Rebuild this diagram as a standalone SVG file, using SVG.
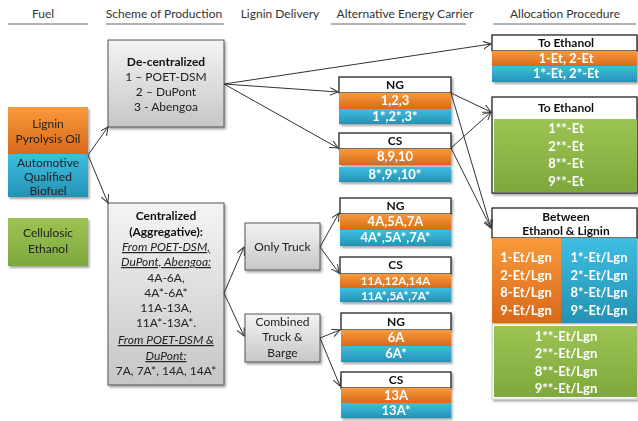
<svg xmlns="http://www.w3.org/2000/svg" width="638" height="421" viewBox="0 0 638 421">
  <defs>
    <linearGradient id="gOrange" x1="0" y1="0" x2="0" y2="1">
      <stop offset="0" stop-color="#F99A3A"/>
      <stop offset="1" stop-color="#D8691C"/>
    </linearGradient>
    <linearGradient id="gBlue" x1="0" y1="0" x2="0" y2="1">
      <stop offset="0" stop-color="#3DBEE2"/>
      <stop offset="1" stop-color="#2692B3"/>
    </linearGradient>
    <linearGradient id="gGreen" x1="0" y1="0" x2="0" y2="1">
      <stop offset="0" stop-color="#9CC454"/>
      <stop offset="1" stop-color="#7FA83C"/>
    </linearGradient>
    <linearGradient id="gGray" x1="0" y1="0" x2="0" y2="1">
      <stop offset="0" stop-color="#F4F4F4"/>
      <stop offset="1" stop-color="#C6C6C6"/>
    </linearGradient>
    <filter id="shadow" x="-10%" y="-10%" width="125%" height="125%">
      <feDropShadow dx="1.5" dy="2" stdDeviation="1.2" flood-color="#000" flood-opacity="0.35"/>
    </filter>
    <marker id="arrow" markerWidth="10" markerHeight="10" refX="8" refY="4" orient="auto" markerUnits="userSpaceOnUse">
      <path d="M0,0 L8,4 L0,8" fill="none" stroke="#333" stroke-width="1"/>
    </marker>
  </defs>
  <style>
    text { font-family: Lato, "Liberation Sans", sans-serif; }
    .hdr { font-size: 12px; fill: #333; text-anchor: middle; }
    .rule { stroke: #9A9A9A; stroke-width: 1.5; }
    .lbl { font-size: 12px; fill: #222; text-anchor: middle; }
    .lblb { font-size: 12px; fill: #111; text-anchor: middle; font-weight: bold; }
    .it { font-style: italic; text-decoration: underline; }
    .wt { font-size: 13px; fill: #fff; text-anchor: middle; font-weight: bold; }
    .wts { font-size: 11.5px; }
    .head { fill: #fff; stroke: #222; stroke-width: 1.3; }
    .gray { fill: url(#gGray); stroke: #555; stroke-width: 1; }
    .org { fill: url(#gOrange); }
    .blu { fill: url(#gBlue); }
    .grn { fill: url(#gGreen); }
    .conn { stroke: #333; stroke-width: 1; fill: none; marker-end: url(#arrow); }
  </style>

  <rect width="638" height="421" fill="#fff"/>

  <!-- column headings -->
  <g id="headings">
    <text class="hdr" x="43" y="18">Fuel</text>
    <line class="rule" x1="8" y1="24" x2="88" y2="24"/>
    <text class="hdr" x="164" y="18">Scheme of Production</text>
    <line class="rule" x1="106" y1="24" x2="224" y2="24"/>
    <text class="hdr" x="280" y="18">Lignin Delivery</text>
    <text class="hdr" x="405" y="18">Alternative Energy Carrier</text>
    <line class="rule" x1="331" y1="24" x2="466" y2="24"/>
    <text class="hdr" x="565" y="18">Allocation Procedure</text>
    <line class="rule" x1="493" y1="24" x2="636" y2="24"/>
  </g>

  <!-- fuels -->
  <g id="fuel-lignin-biofuel" filter="url(#shadow)">
    <rect class="org" x="8" y="107" width="80" height="47"/>
    <rect class="blu" x="8" y="154" width="80" height="43"/>
    <text class="lbl" x="48" y="128">Lignin</text>
    <text class="lbl" x="48" y="143">Pyrolysis Oil</text>
    <text class="lbl" x="48" y="167">Automotive</text>
    <text class="lbl" x="48" y="181">Qualified</text>
    <text class="lbl" x="48" y="195">Biofuel</text>
  </g>
  <g id="fuel-cellulosic" filter="url(#shadow)">
    <rect class="grn" x="8" y="218" width="80" height="48"/>
    <text class="lbl" x="48" y="237">Cellulosic</text>
    <text class="lbl" x="48" y="253">Ethanol</text>
  </g>

  <!-- production schemes -->
  <g id="decentralized" filter="url(#shadow)">
    <rect class="gray" x="108" y="40" width="116" height="87"/>
    <text class="lblb" x="166" y="66">De-centralized</text>
    <text class="lbl" x="166" y="81">1 – POET-DSM</text>
    <text class="lbl" x="166" y="96">2 – DuPont</text>
    <text class="lbl" x="166" y="111">3 - Abengoa</text>
  </g>
  <g id="centralized" filter="url(#shadow)">
    <rect class="gray" x="108" y="203" width="116" height="182"/>
    <text class="lblb" x="166" y="220">Centralized</text>
    <text class="lblb" x="166" y="236">(Aggregative):</text>
    <text class="lbl it" x="166" y="251">From POET-DSM,</text>
    <text class="lbl it" x="166" y="266">DuPont, Abengoa:</text>
    <text class="lbl" x="166" y="282">4A-6A,</text>
    <text class="lbl" x="166" y="297">4A*-6A*</text>
    <text class="lbl" x="166" y="312">11A-13A,</text>
    <text class="lbl" x="166" y="327">11A*-13A*.</text>
    <text class="lbl it" x="166" y="344">From POET-DSM &amp;</text>
    <text class="lbl it" x="166" y="360">DuPont:</text>
    <text class="lbl" x="166" y="375">7A, 7A*, 14A, 14A*</text>
  </g>

  <!-- lignin delivery -->
  <g id="only-truck" filter="url(#shadow)">
    <rect class="gray" x="245" y="223" width="75" height="47"/>
    <text class="lbl" x="282.5" y="251">Only Truck</text>
  </g>
  <g id="truck-barge" filter="url(#shadow)">
    <rect class="gray" x="245" y="314" width="75" height="48"/>
    <text class="lbl" x="282.5" y="326">Combined</text>
    <text class="lbl" x="282.5" y="341">Truck &amp;</text>
    <text class="lbl" x="282.5" y="357">Barge</text>
  </g>

  <!-- alternative energy carriers -->
  <g id="ng-1" filter="url(#shadow)">
    <rect class="head" x="339" y="77" width="112" height="16"/>
    <rect class="org" x="339" y="93" width="112" height="16"/>
    <rect class="blu" x="339" y="109" width="112" height="15"/>
    <text class="lblb" x="395" y="89">NG</text>
    <text class="wt" x="395" y="105">1,2,3</text>
    <text class="wt" x="395" y="121">1*,2*,3*</text>
  </g>
  <g id="cs-1" filter="url(#shadow)">
    <rect class="head" x="339" y="133" width="112" height="16"/>
    <rect class="org" x="339" y="149" width="112" height="16"/>
    <rect class="blu" x="339" y="167" width="112" height="15"/>
    <text class="lblb" x="395" y="145">CS</text>
    <text class="wt" x="395" y="161">8,9,10</text>
    <text class="wt" x="395" y="179">8*,9*,10*</text>
  </g>
  <g id="ng-2" filter="url(#shadow)">
    <rect class="head" x="340" y="198" width="111" height="16"/>
    <rect class="org" x="340" y="214" width="111" height="16"/>
    <rect class="blu" x="340" y="230" width="111" height="16"/>
    <text class="lblb" x="395.5" y="210">NG</text>
    <text class="wt" x="395.5" y="226">4A,5A,7A</text>
    <text class="wt" x="395.5" y="242">4A*,5A*,7A*</text>
  </g>
  <g id="cs-2" filter="url(#shadow)">
    <rect class="head" x="340" y="257" width="111" height="17"/>
    <rect class="org" x="340" y="274" width="111" height="14"/>
    <rect class="blu" x="340" y="288" width="111" height="14"/>
    <text class="lblb" x="395.5" y="269">CS</text>
    <text class="wt wts" x="395.5" y="285">11A,12A,14A</text>
    <text class="wt wts" x="395.5" y="299.5">11A*,5A*,7A*</text>
  </g>
  <g id="ng-3" filter="url(#shadow)">
    <rect class="head" x="341" y="313" width="110" height="17"/>
    <rect class="org" x="341" y="330" width="110" height="16"/>
    <rect class="blu" x="341" y="346" width="110" height="16"/>
    <text class="lblb" x="396" y="326">NG</text>
    <text class="wt" x="396" y="342">6A</text>
    <text class="wt" x="396" y="358">6A*</text>
  </g>
  <g id="cs-3" filter="url(#shadow)">
    <rect class="head" x="341" y="372" width="110" height="16"/>
    <rect class="org" x="341" y="388" width="110" height="15"/>
    <rect class="blu" x="341" y="403" width="110" height="15"/>
    <text class="lblb" x="396" y="384">CS</text>
    <text class="wt" x="396" y="400">13A</text>
    <text class="wt" x="396" y="415">13A*</text>
  </g>

  <!-- allocation procedures -->
  <g id="alloc-ethanol-1" filter="url(#shadow)">
    <rect class="head" x="492" y="35" width="145" height="16"/>
    <rect class="org" x="492" y="51" width="145" height="15"/>
    <rect class="blu" x="492" y="66" width="145" height="16"/>
    <text class="lblb" x="566" y="47">To Ethanol</text>
    <text class="wt" x="566" y="63">1-Et, 2-Et</text>
    <text class="wt" x="566" y="78">1*-Et, 2*-Et</text>
  </g>
  <g id="alloc-ethanol-2" filter="url(#shadow)">
    <rect class="head" x="492" y="97" width="145" height="96"/>
    <rect class="grn" x="494" y="119" width="143" height="73"/>
    <text class="lblb" x="566" y="112">To Ethanol</text>
    <text class="wt" x="566" y="133">1**-Et</text>
    <text class="wt" x="566" y="151">2**-Et</text>
    <text class="wt" x="566" y="168">8**-Et</text>
    <text class="wt" x="566" y="186">9**-Et</text>
  </g>
  <g id="alloc-between" filter="url(#shadow)">
    <rect class="head" x="492" y="208" width="145" height="30"/>
    <rect class="org" x="492" y="238" width="69" height="85"/>
    <rect class="blu" x="561" y="238" width="76" height="85"/>
    <text class="lblb" x="566" y="221">Between</text>
    <text class="lblb" x="566" y="235">Ethanol &amp; Lignin</text>
    <text class="wt" x="526" y="262">1-Et/Lgn</text>
    <text class="wt" x="526" y="280">2-Et/Lgn</text>
    <text class="wt" x="526" y="297">8-Et/Lgn</text>
    <text class="wt" x="526" y="315">9-Et/Lgn</text>
    <text class="wt" x="599" y="262">1*-Et/Lgn</text>
    <text class="wt" x="599" y="280">2*-Et/Lgn</text>
    <text class="wt" x="599" y="297">8*-Et/Lgn</text>
    <text class="wt" x="599" y="315">9*-Et/Lgn</text>
  </g>
  <g id="alloc-between-cellulosic" filter="url(#shadow)">
    <rect x="492" y="324" width="145" height="75" fill="#fff" stroke="#ccc" stroke-width="1"/>
    <rect class="grn" x="494" y="326" width="143" height="71"/>
    <text class="wt" x="566" y="341">1**-Et/Lgn</text>
    <text class="wt" x="566" y="358">2**-Et/Lgn</text>
    <text class="wt" x="566" y="376">8**-Et/Lgn</text>
    <text class="wt" x="566" y="393">9**-Et/Lgn</text>
  </g>

  <!-- connectors -->
  <g id="connectors">
    <line class="conn" x1="88" y1="155" x2="108" y2="127"/>
    <line class="conn" x1="88" y1="155" x2="108" y2="203"/>
    <line class="conn" x1="224" y1="84" x2="491" y2="44"/>
    <line class="conn" x1="224" y1="84" x2="338" y2="92"/>
    <line class="conn" x1="224" y1="84" x2="338" y2="148"/>
    <line class="conn" x1="451" y1="93" x2="491" y2="112"/>
    <line class="conn" x1="451" y1="148" x2="491" y2="112"/>
    <line class="conn" x1="451" y1="93" x2="491" y2="228"/>
    <line class="conn" x1="451" y1="148" x2="491" y2="228"/>
    <line class="conn" x1="224" y1="293" x2="244" y2="247"/>
    <line class="conn" x1="224" y1="293" x2="244" y2="336"/>
    <line class="conn" x1="320" y1="247" x2="339" y2="213"/>
    <line class="conn" x1="320" y1="247" x2="339" y2="273"/>
    <line class="conn" x1="320" y1="338" x2="340" y2="330"/>
    <line class="conn" x1="320" y1="338" x2="340" y2="386"/>
  </g>
</svg>
